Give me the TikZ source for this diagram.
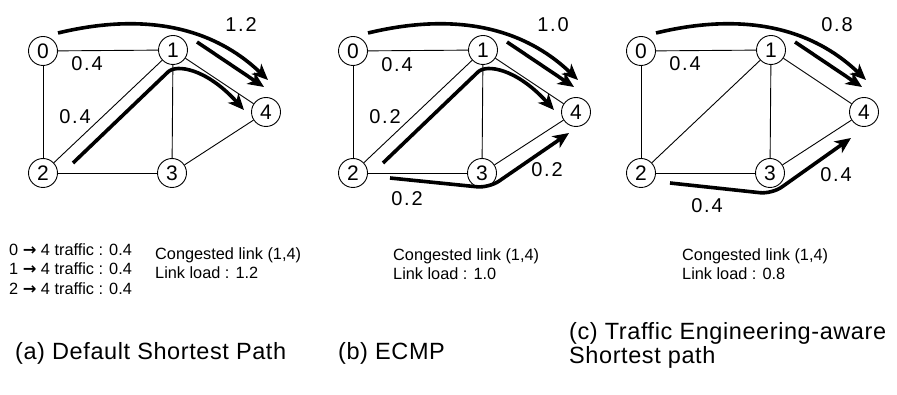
\documentclass[tikz,border=0pt]{standalone}
\usepackage{fontspec}
\setmainfont{Liberation Sans}
\newfontfamily\arrowfont{DejaVu Sans}
\newfontfamily\spacedfont{Liberation Sans}[LetterSpace=9]
\newfontfamily\capfont{Liberation Sans}[LetterSpace=2.5]
\usetikzlibrary{arrows.meta}

\tikzset{
  router/.style={circle, draw, line width=0.9pt, minimum size=29pt, inner sep=0pt,
                 fill=white, font=\fontsize{21}{21}\selectfont},
  link/.style={line width=0.9pt},
  flow/.style={line width=3.6pt, -{Stealth[length=16pt,width=14pt,inset=4.5pt]}},
  load/.style={font=\spacedfont\fontsize{20}{20}\selectfont, inner sep=0pt},
  note/.style={font=\fontsize{16.3}{19}\selectfont, anchor=west, inner sep=0pt},
  caption/.style={font=\capfont\fontsize{23.5}{24}\selectfont, anchor=west, inner sep=0pt},
}

% the five-router network, node names prefixed by #1
\newcommand\netgraph[1]{%
  \node[router] (#1n0) at (43,51) {0};
  \node[router] (#1n1) at (173,50) {1};
  \node[router] (#1n2) at (43,173) {2};
  \node[router] (#1n3) at (172,173) {3};
  \node[router] (#1n4) at (266,112) {4};
  \draw[link] (#1n0) -- (#1n1);
  \draw[link] (#1n0) -- (#1n2);
  \draw[link] (#1n1) -- (#1n2);
  \draw[link] (#1n1) -- (#1n3);
  \draw[link] (#1n1) -- (#1n4);
  \draw[link] (#1n2) -- (#1n3);
  \draw[link] (#1n3) -- (#1n4);
}

% flow 0 -> 4 over the top and the flow on link (1,4)
\newcommand\topflows[1]{%
  \coordinate (#1f0s) at (58,33);
  \coordinate (#1f0e) at (268,80);
  \coordinate (#1f1s) at (197,42);
  \coordinate (#1f1e) at (264,87);
  \draw[flow] (#1f0s) .. controls (120,18) and (200,15) .. (#1f0e);
  \draw[flow] (#1f1s) -- (#1f1e);
}

% flow 2 -> 1 -> 4
\newcommand\diagflow[1]{%
  \coordinate (#1f2s) at (73,163);
  \coordinate (#1f2m) at (168,72);
  \coordinate (#1f2e) at (244,110);
  \draw[flow] (#1f2s) -- (#1f2m) .. controls (176,64) and (206,68) .. (#1f2e);
}

\begin{document}
\begin{tikzpicture}[x=1pt, y=-1pt]
\useasboundingbox (0,0) rectangle (897,395);

% ---------- (a) default shortest path ----------
\begin{scope}
  \netgraph{a}
  \topflows{a}
  \diagflow{a}
  \node[load] (al1) at (241,25) {1.2};
  \node[load] (al2) at (87,64) {0.4};
  \node[load] (al3) at (75,117) {0.4};
\end{scope}

% ---------- (b) ECMP ----------
\begin{scope}[xshift=310pt]
  \netgraph{b}
  \topflows{b}
  \diagflow{b}
  \coordinate (bf3s) at (80,178);
  \coordinate (bf3m) at (179,188);
  \coordinate (bf3e) at (259,133);
  \draw[flow, rounded corners=12pt] (bf3s) -- (bf3m) -- (bf3e);
  \node[load] (bl1) at (243,25) {1.0};
  \node[load] (bl2) at (87,65) {0.4};
  \node[load] (bl3) at (75,117) {0.2};
  \node[load] (bl4) at (237,170) {0.2};
  \node[load] (bl5) at (97,199) {0.2};
\end{scope}

% ---------- (c) traffic engineering-aware ----------
\begin{scope}[xshift=598pt]
  \netgraph{c}
  \topflows{c}
  \coordinate (cf3s) at (72,183);
  \coordinate (cf3m) at (174,194);
  \coordinate (cf3e) at (253,138);
  \draw[flow, rounded corners=12pt] (cf3s) -- (cf3m) -- (cf3e);
  \node[load] (cl1) at (239,25) {0.8};
  \node[load] (cl2) at (87,64) {0.4};
  \node[load] (cl3) at (238,175) {0.4};
  \node[load] (cl4) at (109,206) {0.4};
\end{scope}

% ---------- traffic and link-load notes ----------
\node[note] (t0) at (9,250) {0 {\arrowfont\bfseries →} 4 traffic : 0.4};
\node[note] (t1) at (9,269) {1 {\arrowfont\bfseries →} 4 traffic : 0.4};
\node[note] (t2) at (9,289) {2 {\arrowfont\bfseries →} 4 traffic : 0.4};

\node[note] (ac) at (155,255) {Congested link (1,4)};
\node[note] (ald) at (155,273) {Link load : 1.2};
\node[note] (bc) at (393,256) {Congested link (1,4)};
\node[note] (bld) at (393,274) {Link load : 1.0};
\node[note] (cc) at (682,256) {Congested link (1,4)};
\node[note] (cld) at (682,274) {Link load : 0.8};

% ---------- captions ----------
\node[caption] (capa) at (15,353) {(a) Default Shortest Path};
\node[caption] (capb) at (338,353) {(b) ECMP};
\node[caption] (capc1) at (569,333) {(c) Traffic Engineering-aware};
\node[caption] (capc2) at (569,357) {Shortest path};
\end{tikzpicture}
\end{document}
